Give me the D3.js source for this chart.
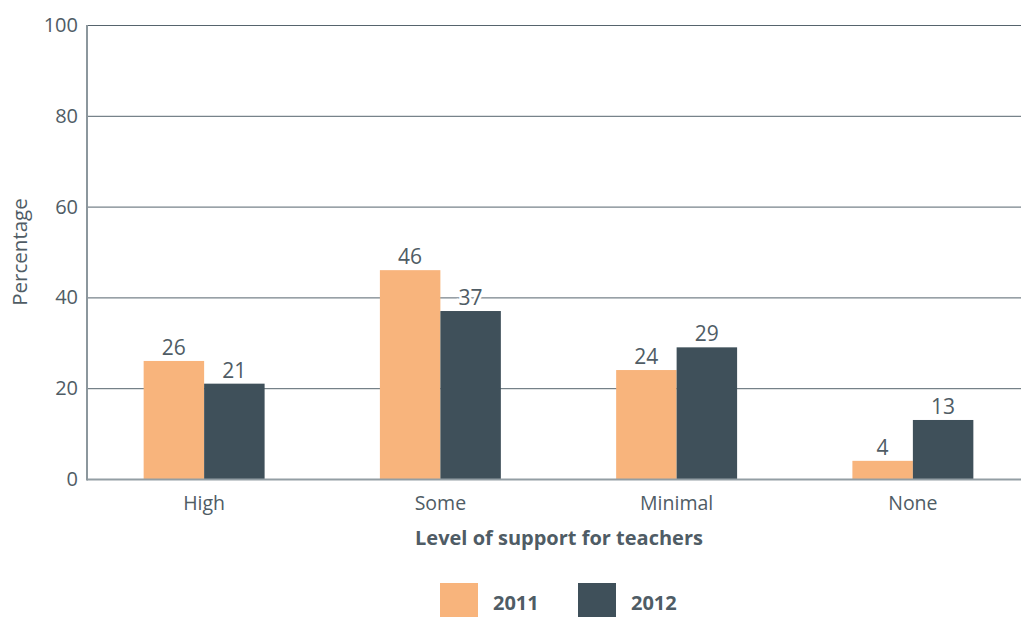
<!DOCTYPE html>
<html>
<head>
<meta charset="utf-8">
<script src="https://cdn.jsdelivr.net/npm/d3@7"></script>
<style>
  body { margin: 0; background: #fff; }
  svg { display: block; font-family: 'Open Sans', sans-serif; }
</style>
</head>
<body>
<div id="chart"></div>
<script>
// Chart data
const categories = ['High', 'Some', 'Minimal', 'None'];
const years = ['2011', '2012'];
const values2011 = [26, 46, 24, 4];
const values2012 = [21, 37, 29, 13];
const yTicks = [0, 20, 40, 60, 80, 100];

const colors = { '2011': '#f8b47c', '2012': '#3f505a' };
const textColor = '#4f5c65';

const width = 1021, height = 617;
const margin = { top: 25, right: -10, bottom: 138, left: 86 };

const svg = d3.select('#chart').append('svg')
    .attr('width', width)
    .attr('height', height);

const x0 = d3.scaleBand()
    .domain(categories)
    .range([margin.left, width - margin.right])
    .paddingInner(0.488)
    .paddingOuter(0.244);

const x1 = d3.scaleBand()
    .domain(years)
    .range([0, x0.bandwidth()]);

const y = d3.scaleLinear()
    .domain([0, 100])
    .range([height - margin.bottom, margin.top]);

// Gridlines
svg.append('g')
    .selectAll('line')
    .data(yTicks.filter(d => d > 0))
  .enter().append('line')
    .attr('x1', 87)
    .attr('x2', width)
    .attr('y1', d => y(d) + 0.5)
    .attr('y2', d => y(d) + 0.5)
    .attr('stroke', '#56646d')
    .attr('stroke-width', 1);

// Y tick labels
svg.append('g')
    .selectAll('text')
    .data(yTicks)
  .enter().append('text')
    .attr('x', 78)
    .attr('y', d => y(d))
    .attr('dy', '0.35em')
    .attr('text-anchor', 'end')
    .style('font-size', '20px')
    .style('fill', textColor)
    .text(d => d);

// Bars
const rows = categories.map((c, i) => ({
    category: c,
    items: [
        { year: '2011', value: values2011[i] },
        { year: '2012', value: values2012[i] }
    ]
}));

const groups = svg.append('g')
    .selectAll('g')
    .data(rows)
  .enter().append('g')
    .attr('transform', d => `translate(${x0(d.category)},0)`);

groups.selectAll('rect')
    .data(d => d.items)
  .enter().append('rect')
    .attr('x', d => x1(d.year))
    .attr('y', d => y(d.value))
    .attr('width', x1.bandwidth())
    .attr('height', d => y(0) - y(d.value))
    .attr('fill', d => colors[d.year]);

// Axes lines
svg.append('line')
    .attr('x1', 87)
    .attr('x2', width)
    .attr('y1', y(0) + 0.5)
    .attr('y2', y(0) + 0.5)
    .attr('stroke', '#939ea4')
    .attr('stroke-width', 2);

svg.append('line')
    .attr('x1', 87)
    .attr('x2', 87)
    .attr('y1', y(100))
    .attr('y2', y(0) + 1.5)
    .attr('stroke', '#8c979d')
    .attr('stroke-width', 2);

// Value labels, with white halo over gridlines
groups.selectAll('text')
    .data(d => d.items)
  .enter().append('text')
    .attr('x', d => x1(d.year) + x1.bandwidth() / 2)
    .attr('y', d => y(d.value) - 6)
    .attr('text-anchor', 'middle')
    .style('font-size', '21px')
    .style('fill', textColor)
    .style('stroke', '#fff')
    .style('stroke-width', '5px')
    .style('paint-order', 'stroke')
    .text(d => d.value);

// Category labels
svg.append('g')
    .selectAll('text')
    .data(categories)
  .enter().append('text')
    .attr('x', d => x0(d) + x0.bandwidth() / 2)
    .attr('y', 510)
    .attr('text-anchor', 'middle')
    .style('font-size', '19.5px')
    .style('fill', textColor)
    .text(d => d);

// Axis titles
svg.append('text')
    .attr('x', 559)
    .attr('y', 545)
    .attr('text-anchor', 'middle')
    .style('font-size', '20px')
    .style('font-weight', 'bold')
    .style('fill', textColor)
    .text('Level of support for teachers');

svg.append('text')
    .attr('transform', 'rotate(-90)')
    .attr('x', -252)
    .attr('y', 27)
    .attr('text-anchor', 'middle')
    .style('font-size', '20.5px')
    .style('fill', textColor)
    .text('Percentage');

// Legend
const legendX = [440, 578];
const legend = svg.append('g')
    .selectAll('g')
    .data(years)
  .enter().append('g')
    .attr('transform', (d, i) => `translate(${legendX[i]},583)`);

legend.append('rect')
    .attr('width', 38)
    .attr('height', 34)
    .attr('fill', d => colors[d]);

legend.append('text')
    .attr('x', 53)
    .attr('y', 27)
    .style('font-size', '20px')
    .style('font-weight', 'bold')
    .style('fill', textColor)
    .text(d => d);
</script>
</body>
</html>
